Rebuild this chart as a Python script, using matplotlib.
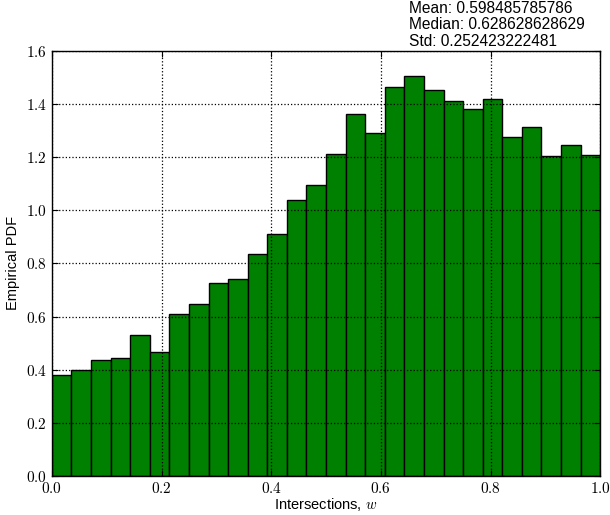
import numpy as np
import matplotlib
matplotlib.use('Agg')
import matplotlib.pyplot as plt
from matplotlib.ticker import FuncFormatter

plt.rcParams['font.family'] = ['Liberation Sans', 'DejaVu Sans']
plt.rcParams['mathtext.fontset'] = 'cm'

# histogram of intersections, 28 bins on [0, 1]
bin_edges = np.linspace(0.0, 1.0, 29)
pdf_values = [0.378, 0.398, 0.435, 0.442, 0.532, 0.468, 0.609, 0.648,
              0.725, 0.741, 0.835, 0.911, 1.039, 1.094, 1.213, 1.361,
              1.293, 1.464, 1.507, 1.453, 1.411, 1.383, 1.420, 1.277,
              1.313, 1.204, 1.245, 1.207]
stats_text = "Mean: 0.598485785786\nMedian: 0.628628628629\nStd: 0.252423222481"

fig = plt.figure(figsize=(6.1, 5.15), dpi=100)
ax = fig.add_axes([0.085, 0.076, 0.899, 0.825])

widths = np.diff(bin_edges)
ax.bar(bin_edges[:-1], pdf_values, width=widths, align='edge',
       color='green', edgecolor='black', linewidth=1.0, zorder=2)

ax.set_xlim(0, 1)
ax.set_ylim(0, 1.6)
ax.set_xticks(np.arange(0, 1.01, 0.2))
ax.set_yticks(np.arange(0, 1.61, 0.2))
fmt = FuncFormatter(lambda v, p: r'$%.1f$' % v)
ax.xaxis.set_major_formatter(fmt)
ax.yaxis.set_major_formatter(fmt)
ax.tick_params(direction='in', top=True, right=True, length=4, labelsize=11)
ax.grid(True, linestyle=':', color='black', linewidth=0.9, zorder=3)
ax.set_axisbelow(False)
for s in ax.spines.values():
    s.set_linewidth(1.0)
    s.set_zorder(4)

ax.set_xlabel(r'Intersections, $w$', fontsize=10.5, labelpad=0)
ax.set_ylabel('Empirical PDF', fontsize=10.5, labelpad=4)

ax.text(0.651, 1.012, stats_text, transform=ax.transAxes, fontsize=11.2,
        ha='left', va='baseline', linespacing=1.13)

fig.savefig('out.png', dpi=100)
